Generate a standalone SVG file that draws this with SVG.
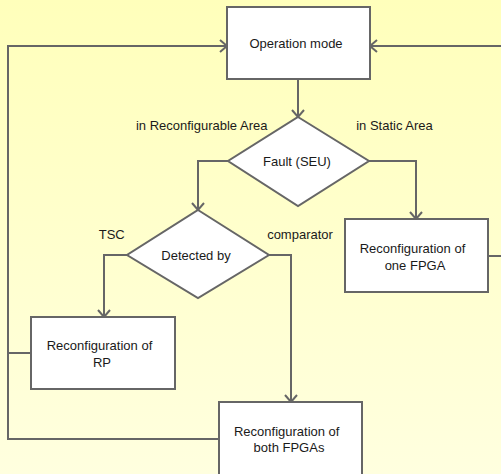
<svg xmlns="http://www.w3.org/2000/svg" width="501" height="474" viewBox="0 0 501 474">
<defs>
<linearGradient id="bg" x1="0" y1="0" x2="0" y2="1">
<stop offset="0" stop-color="#FFFFBB"/>
<stop offset="1" stop-color="#FFFFDF"/>
</linearGradient>
<marker id="arr" markerUnits="userSpaceOnUse" markerWidth="16" markerHeight="16" refX="0" refY="0" viewBox="-10 -8 12 16" orient="auto">
<path d="M-7,-6 L0,0 L-7,6" fill="none" stroke="#666666" stroke-width="2"/>
</marker>
<style>
.node{fill:#FFFFFF;stroke:#666666;stroke-width:2}
.edge{fill:none;stroke:#666666;stroke-width:2}
text{font-family:"Liberation Sans",Arial,sans-serif;font-size:13px;fill:#1a1a1a;text-anchor:middle}
</style>
</defs>
<rect x="0" y="0" width="501" height="474" fill="url(#bg)"/>
<g id="connectors">
<path class="edge" d="M298,79 L298,117" marker-end="url(#arr)"/>
<path class="edge" d="M228,161 L198,161 L198,210" marker-end="url(#arr)"/>
<path class="edge" d="M369,161 L416,161 L416,219" marker-end="url(#arr)"/>
<path class="edge" d="M127,255 L104,255 L104,317" marker-end="url(#arr)"/>
<path class="edge" d="M269,255 L291,255 L291,402" marker-end="url(#arr)"/>
<path class="edge" d="M31,353 L8,353"/>
<path class="edge" d="M219,439 L8,439 L8,46 L227,46" marker-end="url(#arr)"/>
<path class="edge" d="M488,256 L504,256 L504,46 L370,46" marker-end="url(#arr)"/>
</g>
<g id="op">
<rect class="node" x="227" y="7" width="143" height="72"/>
<text x="296" y="48">Operation mode</text>
</g>
<g id="fault">
<polygon class="node" points="298,117 369,161 298,206 228,161"/>
<text x="297" y="166">Fault (SEU)</text>
</g>
<g id="detected">
<polygon class="node" points="198,210 269,255 198,298 127,255"/>
<text x="196" y="260">Detected by</text>
</g>
<g id="onefpga">
<rect class="node" x="345" y="219" width="143" height="73"/>
<text x="412.5" y="253">Reconfiguration of</text>
<text x="415" y="270">one FPGA</text>
</g>
<g id="rp">
<rect class="node" x="31" y="317" width="144" height="72"/>
<text x="99.5" y="349.5">Reconfiguration of</text>
<text x="102" y="367">RP</text>
</g>
<g id="both">
<rect class="node" x="219" y="402" width="143" height="74"/>
<text x="286.7" y="436">Reconfiguration of</text>
<text x="289" y="452">both FPGAs</text>
</g>
<g id="labels">
<text x="201.7" y="130">in Reconfigurable Area</text>
<text x="394.5" y="130">in Static Area</text>
<text x="111.7" y="238.5">TSC</text>
<text x="300" y="239">comparator</text>
</g>
</svg>
